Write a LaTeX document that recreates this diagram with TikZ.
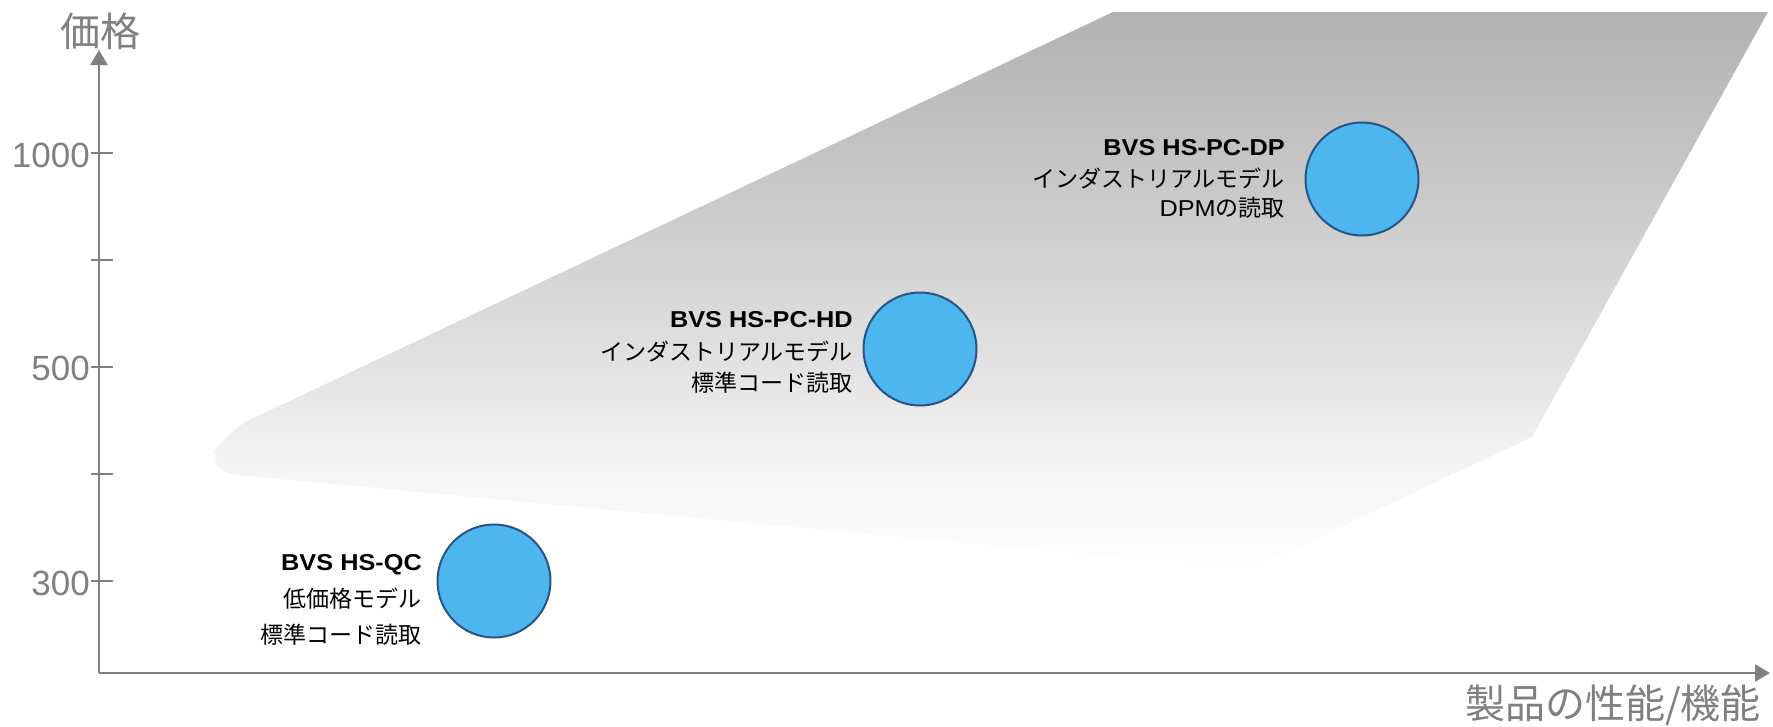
\documentclass[tikz,border=0pt]{standalone}
\usepackage{fontspec}
\setmainfont{Liberation Sans}
\newfontfamily\jp{Noto Sans CJK JP}
\newfontfamily\lat[FakeStretch=1.1]{Liberation Sans}
\usetikzlibrary{arrows.meta}
\definecolor{axisgray}{RGB}{128,128,128}
\definecolor{bubblefill}{RGB}{77,182,238}
\definecolor{bubbleedge}{RGB}{38,84,133}
\definecolor{sA}{RGB}{178,178,178}
\definecolor{sB}{RGB}{202,202,202}
\definecolor{sC}{RGB}{224,224,224}
\definecolor{sD}{RGB}{238,238,238}
\definecolor{sE}{RGB}{245,245,245}
\definecolor{sF}{RGB}{250,250,250}
% TikZ maps the path's bounding box onto 25bp..75bp of the shading
\pgfdeclareverticalshading{bandshade}{100bp}{color(0bp)=(white); color(25bp)=(white); color(29.5bp)=(sF); color(34bp)=(sE); color(37.5bp)=(sD); color(44.7bp)=(sC); color(58.2bp)=(sB); color(75bp)=(sA); color(100bp)=(sA)}
\tikzset{
  axisline/.style={draw=axisgray, line width=2.6pt},
  axisarrow/.style={axisline, -{Triangle[length=15pt,width=17pt]}},
  ticklabel/.style={anchor=east, text=axisgray, inner sep=0pt, font=\fontsize{35}{35}\selectfont},
  axislabel/.style={text=axisgray, inner sep=0pt, font=\jp\fontsize{40}{40}\selectfont},
  bubble/.style={circle, fill=bubblefill, draw=bubbleedge, line width=2pt, minimum size=113pt, inner sep=0pt},
  lbl/.style={anchor=base east, inner sep=0pt, font=\fontsize{23}{23}\selectfont},
}
\newcommand{\boldlat}[1]{{\lat\bfseries #1}}
\newcommand{\jptxt}[1]{{\jp #1}}
\newcommand{\lattxt}[1]{{\lat #1}}
\begin{document}
\begin{tikzpicture}[x=1pt,y=-1pt]
\useasboundingbox (0,0) rectangle (1773,726);
% gradient band
\begin{scope}
\clip (1113,12) -- (1768,12) -- (1532,437) -- (1250,570)
  [rounded corners=30pt] -- (205,472) -- (222,433) [sharp corners] -- cycle;
\shade[shading=bandshade] (190,12) rectangle (1770,570);
\end{scope}
% axes
\coordinate (O) at (99,673);
\coordinate (ytip) at (99,50);
\coordinate (xtip) at (1770,673);
\draw[axisarrow] (O) -- (ytip);
\draw[axisarrow] (O) -- (xtip);
\foreach \yy/\name in {153/t1,260/t2,367/t3,474/t4,581/t5}{
  \coordinate (\name a) at (91,\yy);
  \coordinate (\name b) at (113,\yy);
  \draw[axisline] (\name a) -- (\name b);
}
\node[ticklabel] (l1000) at (90,155) {1000};
\node[ticklabel] (l500) at (90,368) {500};
\node[ticklabel] (l300) at (90,583) {300};
\node[axislabel] (ylab) at (100,31) {価格};
\node[axislabel, anchor=east] (xlab) at (1761,705) {製品の性能/機能};
% bubbles
\node[bubble] (qc) at (494,581) {};
\node[bubble] (hd) at (920,349) {};
\node[bubble] (dp) at (1362,179) {};
% labels
\node[lbl] (qc1) at (422,570) {\boldlat{BVS HS-QC}};
\node[lbl] (qc2) at (422,607) {\jptxt{低価格モデル}};
\node[lbl] (qc3) at (422,643) {\jptxt{標準コード読取}};
\node[lbl] (hd1) at (853,327) {\boldlat{BVS HS-PC-HD}};
\node[lbl] (hd2) at (853,360) {\jptxt{インダストリアルモデル}};
\node[lbl] (hd3) at (853,391) {\jptxt{標準コード読取}};
\node[lbl] (dp1) at (1285,155) {\boldlat{BVS HS-PC-DP}};
\node[lbl] (dp2) at (1285,187) {\jptxt{インダストリアルモデル}};
\node[lbl] (dp3) at (1285,216) {\lattxt{DPM}\jptxt{の読取}};
\end{tikzpicture}
\end{document}
